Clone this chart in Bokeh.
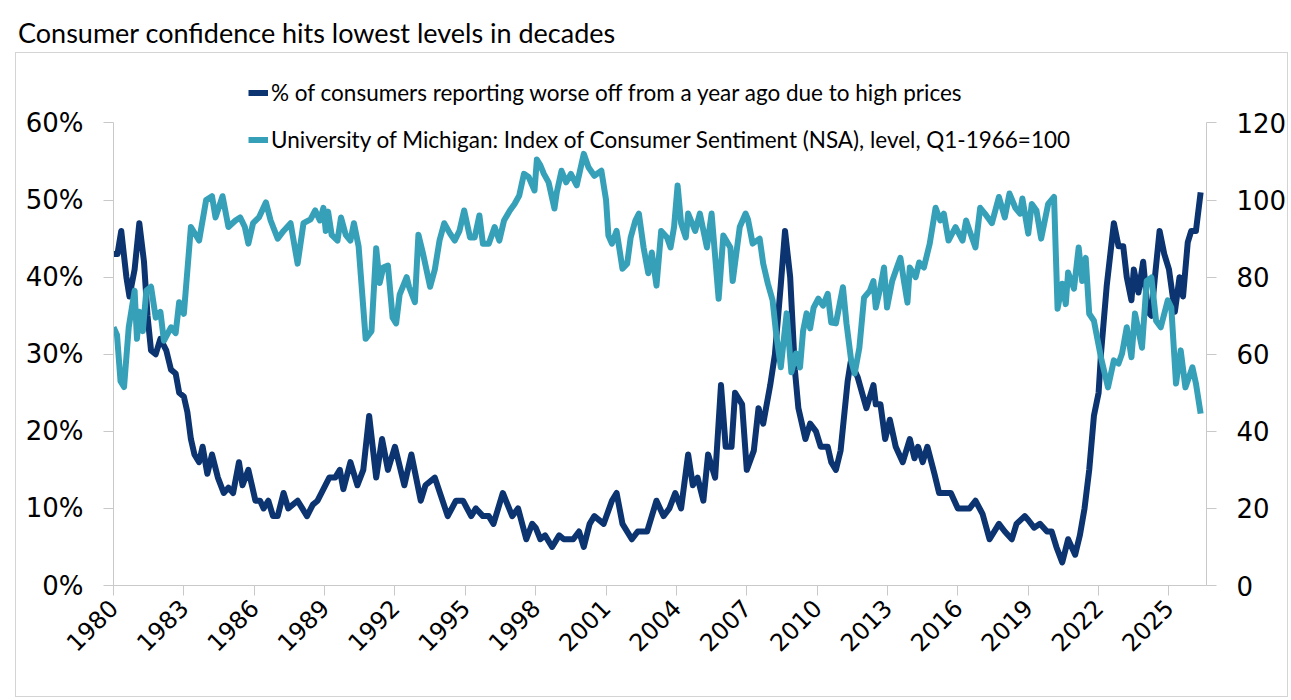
import math
from bokeh.plotting import figure
from bokeh.models import Range1d, LinearAxis, FixedTicker, Legend, LegendItem, Div
from bokeh.layouts import column
from bokeh.embed import file_html
from bokeh.resources import INLINE

title_text = "Consumer confidence hits lowest levels in decades"
worse_label = "% of consumers reporting worse off from a year ago due to high prices"
sent_label = "University of Michigan: Index of Consumer Sentiment (NSA), level, Q1-1966=100"

worse_year = [1980.00, 1980.17, 1980.33, 1980.55, 1980.68, 1980.90, 1981.10, 1981.30, 1981.45, 1981.60,
              1981.80, 1982.00, 1982.25, 1982.45, 1982.65, 1982.80, 1983.00, 1983.15, 1983.30, 1983.45,
              1983.65, 1983.80, 1984.00, 1984.20, 1984.45, 1984.70, 1984.90, 1985.10, 1985.35, 1985.50,
              1985.75, 1986.05, 1986.25, 1986.40, 1986.60, 1986.80, 1987.00, 1987.25, 1987.45, 1987.85,
              1988.05, 1988.25, 1988.50, 1988.70, 1988.95, 1989.20, 1989.45, 1989.65, 1989.80, 1990.10,
              1990.40, 1990.65, 1990.90, 1991.20, 1991.45, 1991.70, 1992.00, 1992.40, 1992.70, 1993.10,
              1993.30, 1993.70, 1994.25, 1994.60, 1994.90, 1995.25, 1995.45, 1995.75, 1996.00, 1996.20,
              1996.60, 1997.00, 1997.25, 1997.60, 1997.85, 1998.00, 1998.20, 1998.40, 1998.70, 1999.00,
              1999.20, 1999.60, 1999.85, 2000.05, 2000.30, 2000.50, 2000.90, 2001.25, 2001.45, 2001.70,
              2002.10, 2002.35, 2002.75, 2002.95, 2003.15, 2003.45, 2003.70, 2003.95, 2004.20, 2004.50,
              2004.70, 2004.90, 2005.15, 2005.35, 2005.65, 2005.90, 2006.10, 2006.35, 2006.50, 2006.80,
              2007.00, 2007.30, 2007.50, 2007.70, 2008.00, 2008.20, 2008.45, 2008.63, 2008.85, 2009.05,
              2009.20, 2009.50, 2009.70, 2009.95, 2010.15, 2010.45, 2010.60, 2010.80, 2011.00, 2011.30,
              2011.43, 2011.73, 2012.10, 2012.40, 2012.50, 2012.70, 2012.90, 2013.10, 2013.35, 2013.65,
              2013.95, 2014.15, 2014.30, 2014.50, 2014.70, 2015.00, 2015.20, 2015.70, 2016.00, 2016.50,
              2016.75, 2017.05, 2017.35, 2017.75, 2018.00, 2018.30, 2018.50, 2018.85, 2019.00, 2019.25,
              2019.50, 2019.80, 2020.00, 2020.20, 2020.45, 2020.70, 2021.00, 2021.20, 2021.40, 2021.60,
              2021.80, 2022.00, 2022.10, 2022.35, 2022.65, 2022.85, 2023.05, 2023.20, 2023.40, 2023.50,
              2023.70, 2023.90, 2024.10, 2024.25, 2024.40, 2024.60, 2024.80, 2025.00, 2025.25, 2025.45,
              2025.60, 2025.80, 2025.95, 2026.15, 2026.35]
worse_pct = [43, 43, 46, 40, 37.5, 41, 47, 42, 35, 30.5,
             30, 32, 30.5, 28, 27.5, 25, 24.5, 22.5, 19, 17,
             16, 18, 14.5, 17, 14, 12, 12.7, 12, 16, 13,
             15, 11, 11, 10, 11, 9, 9, 12, 10, 11,
             10, 9, 10.5, 11, 12.5, 14, 14, 15, 12.5, 16,
             13, 15, 22, 14, 19, 15, 18, 13, 17, 11,
             13, 14, 9, 11, 11, 9, 10, 9, 9, 8,
             12, 9, 10, 6, 8, 7.5, 6, 6.5, 5, 6.5,
             6, 6, 7, 5, 8, 9, 8, 11, 12, 8,
             6, 7, 7, 9, 11, 9, 10, 12, 10, 17,
             13, 14, 11, 17, 14, 26, 18, 18, 25, 23.5,
             15, 17.5, 23, 21, 26, 30, 39, 46, 40, 28,
             23, 19, 21, 20, 18, 18, 16, 15, 17.5, 26.5,
             29, 27, 23, 26, 23.5, 23.5, 19, 21.5, 18, 16,
             19, 16.5, 18, 16, 18, 14.5, 12, 12, 10, 10,
             11, 9.3, 6, 8, 7, 6, 8, 9, 8.5, 7.5,
             8, 7, 7, 5, 3, 6, 4, 6.5, 10, 15,
             22, 25, 30, 39, 47, 44, 44, 40, 37, 41,
             38, 42, 35.5, 35, 40, 46, 43, 41, 35.5, 40,
             37.5, 44.5, 46, 46, 51]

sent_year = [1980.00, 1980.15, 1980.30, 1980.45, 1980.65, 1980.90, 1981.00, 1981.10, 1981.25, 1981.40,
             1981.60, 1981.80, 1982.00, 1982.15, 1982.45, 1982.65, 1982.80, 1983.00, 1983.30, 1983.65,
             1983.95, 1984.20, 1984.35, 1984.65, 1984.90, 1985.20, 1985.40, 1985.60, 1985.75, 1985.95,
             1986.20, 1986.50, 1986.70, 1987.00, 1987.25, 1987.55, 1987.85, 1988.10, 1988.40, 1988.60,
             1988.80, 1988.95, 1989.05, 1989.15, 1989.30, 1989.55, 1989.70, 1989.90, 1990.10, 1990.25,
             1990.45, 1990.60, 1990.75, 1991.00, 1991.20, 1991.35, 1991.50, 1991.70, 1991.90, 1992.05,
             1992.20, 1992.50, 1992.60, 1992.85, 1993.00, 1993.20, 1993.50, 1993.70, 1993.90, 1994.10,
             1994.35, 1994.55, 1994.75, 1994.95, 1995.20, 1995.40, 1995.60, 1995.75, 1996.00, 1996.25,
             1996.45, 1996.65, 1996.90, 1997.10, 1997.30, 1997.50, 1997.70, 1997.95, 1998.05, 1998.20,
             1998.35, 1998.55, 1998.80, 1998.90, 1999.10, 1999.30, 1999.50, 1999.75, 2000.05, 2000.25,
             2000.50, 2000.80, 2001.00, 2001.10, 2001.25, 2001.45, 2001.70, 2001.90, 2002.05, 2002.25,
             2002.40, 2002.60, 2002.80, 2002.95, 2003.15, 2003.35, 2003.60, 2003.75, 2003.90, 2004.05,
             2004.20, 2004.40, 2004.50, 2004.80, 2005.00, 2005.30, 2005.50, 2005.80, 2006.00, 2006.30,
             2006.40, 2006.70, 2006.95, 2007.05, 2007.25, 2007.55, 2007.70, 2007.90, 2008.10, 2008.25,
             2008.45, 2008.70, 2008.90, 2009.10, 2009.27, 2009.40, 2009.55, 2009.70, 2009.85, 2010.05,
             2010.25, 2010.45, 2010.60, 2010.80, 2011.10, 2011.25, 2011.45, 2011.60, 2011.80, 2012.00,
             2012.25, 2012.40, 2012.50, 2012.70, 2012.85, 2012.98, 2013.20, 2013.40, 2013.55, 2013.70,
             2013.85, 2013.95, 2014.20, 2014.35, 2014.55, 2014.80, 2015.05, 2015.25, 2015.40, 2015.60,
             2015.90, 2016.20, 2016.35, 2016.50, 2016.75, 2016.95, 2017.15, 2017.45, 2017.75, 2018.00,
             2018.20, 2018.45, 2018.65, 2018.75, 2019.00, 2019.15, 2019.35, 2019.55, 2019.85, 2020.10,
             2020.25, 2020.45, 2020.60, 2020.70, 2020.95, 2021.15, 2021.30, 2021.45, 2021.60, 2021.80,
             2022.10, 2022.40, 2022.65, 2022.85, 2023.00, 2023.20, 2023.40, 2023.55, 2023.85, 2024.05,
             2024.25, 2024.45, 2024.65, 2024.95, 2025.10, 2025.30, 2025.50, 2025.70, 2026.00, 2026.15,
             2026.35]
sent_index = [67, 65, 53, 51.5, 67, 76.5, 64, 71, 66, 76.5,
              77.5, 69.5, 71, 63.5, 67, 65.5, 73.5, 70.5, 93, 89.5,
              100, 101, 95.5, 101, 93, 94.7, 95.5, 93, 88.7, 94,
              95.5, 99.4, 94.7, 90, 92, 94, 83.5, 94, 95, 97.3,
              94.7, 98, 92, 97, 91, 89.5, 95.5, 91, 89.5, 94,
              88, 76, 64, 66, 87.5, 78.5, 82.5, 83, 69.5, 68,
              75.5, 80, 77.5, 73.5, 91, 86, 77.5, 82, 89.5, 94,
              91.3, 89.5, 92, 97.3, 90.3, 90.3, 96, 88.7, 88.7, 93,
              89.5, 94.7, 97.3, 99, 101.2, 106.8, 106, 102.5, 110.5, 109,
              106.8, 104.6, 97.8, 102, 107.6, 104.6, 106.8, 103.8, 112, 108.5,
              106.3, 107.6, 100, 90.8, 88.7, 92, 82.2, 83.5, 90.3, 94.7,
              96.5, 87.7, 81, 86.4, 77.8, 92, 90.3, 87.7, 93, 103.8,
              94, 90.3, 96.5, 92, 96.5, 87.7, 96.5, 74.4, 90.8, 87.7,
              79, 93, 96.5, 95, 88.7, 90, 83.5, 78.3, 74, 65.4,
              56.6, 70.6, 55.3, 60.2, 56.6, 66, 70.6, 66.7, 72.1, 74.4,
              72.6, 75.7, 68.2, 68, 77.4, 68, 58.4, 55, 61.7, 74.7,
              76.5, 79, 72.1, 77.4, 82.5, 72.1, 79, 82.5, 85, 79,
              73.4, 82.5, 80, 83.8, 82.5, 88.7, 98, 94.7, 96.5, 89.5,
              93, 89.5, 94.7, 92, 87.7, 98, 96.5, 94, 100.8, 95.5,
              101.7, 98, 96.5, 100.4, 91.3, 99, 97.3, 90, 99, 100.8,
              71.8, 78.3, 73, 81.2, 77, 87.7, 79, 85, 70.5, 68.7,
              59.2, 51.4, 58.4, 57.6, 60.2, 67, 59.2, 70.6, 61.7, 79,
              79.9, 68.7, 67, 74, 72.1, 52.4, 61, 51.4, 56.6, 52.4,
              44.6]

x_ticks = [1980, 1983, 1986, 1989, 1992, 1995, 1998, 2001, 2004, 2007, 2010, 2013, 2016, 2019, 2022, 2025]
x_tick_labels = ["1980", "1983", "1986", "1989", "1992", "1995", "1998", "2001", "2004", "2007",
                 "2010", "2013", "2016", "2019", "2022", "2025"]
left_ticks = [0, 10, 20, 30, 40, 50, 60]
left_tick_labels = ["0%", "10%", "20%", "30%", "40%", "50%", "60%"]
right_ticks = [0, 20, 40, 60, 80, 100, 120]
right_tick_labels = ["0", "20", "40", "60", "80", "100", "120"]

DARK = "#0b3470"
TEAL = "#37a0b9"
AXIS_GRAY = "#c9c9c9"
TICK_FONT = "DejaVu Sans"
TEXT_FONT = "Lato"

# frame extends above the 60% line to make room for the legend; axes are bounded at 60 / 120
LEFT_TOP = 66.42
p = figure(width=1273, height=645, x_range=Range1d(1980, 2026.6), y_range=Range1d(0, LEFT_TOP),
           output_backend="svg", toolbar_location=None,
           min_border_left=97, min_border_right=79, min_border_top=20, min_border_bottom=113,
           margin=(0, 0, 0, 15), styles={"border": "1px solid #d4d4d4"})
p.extra_y_ranges = {"right": Range1d(0, LEFT_TOP * 2)}
p.xgrid.visible = False
p.ygrid.visible = False
p.outline_line_color = None
p.background_fill_color = "white"
p.border_fill_color = "white"

r1 = p.line(worse_year, worse_pct, line_color=DARK, line_width=6, line_join="round")
r2 = p.line(sent_year, sent_index, y_range_name="right", line_color=TEAL, line_width=6, line_join="round")

right_axis = LinearAxis(y_range_name="right")
p.add_layout(right_axis, "right")

for ax in [p.yaxis[0], right_axis]:
    ax.axis_line_color = AXIS_GRAY
    ax.major_tick_line_color = AXIS_GRAY
    ax.major_tick_out = 10
    ax.major_tick_in = 0
    ax.minor_tick_line_color = None
    ax.major_label_text_font = TICK_FONT
    ax.major_label_text_font_size = "26px"
    ax.major_label_text_color = "black"
    ax.major_label_standoff = 20

p.yaxis[0].ticker = FixedTicker(ticks=left_ticks)
p.yaxis[0].major_label_overrides = dict(zip(left_ticks, left_tick_labels))
p.yaxis[0].bounds = (left_ticks[0], left_ticks[-1])
right_axis.ticker = FixedTicker(ticks=right_ticks)
right_axis.major_label_overrides = dict(zip(right_ticks, right_tick_labels))
right_axis.bounds = (right_ticks[0], right_ticks[-1])

xa = p.xaxis[0]
xa.ticker = FixedTicker(ticks=x_ticks)
xa.major_label_overrides = dict(zip(x_ticks, x_tick_labels))
xa.axis_line_color = AXIS_GRAY
xa.major_tick_line_color = AXIS_GRAY
xa.major_tick_out = 10
xa.major_tick_in = 0
xa.minor_tick_line_color = None
xa.major_label_orientation = math.pi / 4
xa.major_label_text_font = TICK_FONT
xa.major_label_text_font_size = "24px"
xa.major_label_text_color = "black"
xa.major_label_standoff = 8

legend = Legend(items=[LegendItem(label=worse_label, renderers=[r1]),
                       LegendItem(label=sent_label, renderers=[r2])],
                location=(135, 432), orientation="vertical",
                label_text_font=TEXT_FONT, label_text_font_size="22.5px", label_text_color="black",
                glyph_width=20, glyph_height=25, label_height=25, label_standoff=3,
                spacing=20, padding=0, margin=0,
                background_fill_alpha=0, border_line_color=None)
p.add_layout(legend)

title = Div(text=title_text, width=1291, height=52, margin=(0, 0, 0, 0),
            styles={"font-family": TEXT_FONT, "font-size": "27px", "color": "black",
                    "padding-left": "18px", "padding-top": "14px", "white-space": "nowrap"})

layout = column(title, p, spacing=0)
open("out.html", "w").write(file_html(layout, INLINE))
